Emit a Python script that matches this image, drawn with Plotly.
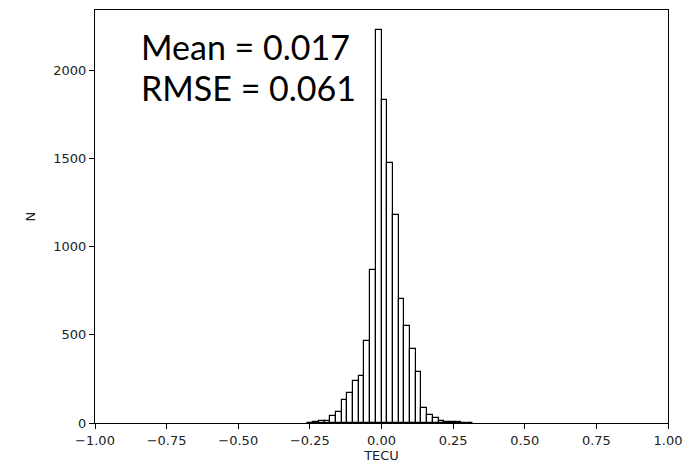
import plotly.graph_objects as go

# Histogram bin centers (TECU) and counts (N)
bin_centers = [-0.2487, -0.2288, -0.2089, -0.1890, -0.1691, -0.1492, -0.1293, -0.1094,
               -0.0895, -0.0696, -0.0497, -0.0298, -0.0099, 0.0100, 0.0299, 0.0498,
               0.0697, 0.0896, 0.1095, 0.1294, 0.1493, 0.1692, 0.1891, 0.2090,
               0.2289, 0.2488, 0.2687, 0.2886, 0.3085]
counts = [2, 5, 10, 12, 41, 62, 128, 173,
          238, 267, 464, 869, 2229, 1831, 1474, 1181,
          704, 550, 420, 290, 85, 48, 28, 14,
          7, 4, 3, 2, 2]
bin_width = 0.0199

x_ticks = [-1.00, -0.75, -0.50, -0.25, 0.00, 0.25, 0.50, 0.75, 1.00]
x_tick_labels = ["\u22121.00", "\u22120.75", "\u22120.50", "\u22120.25", "0.00", "0.25", "0.50", "0.75", "1.00"]
y_ticks = [0, 500, 1000, 1500, 2000]
y_tick_labels = ["0", "500", "1000", "1500", "2000"]

fig = go.Figure()
fig.add_trace(go.Bar(
    x=bin_centers, y=counts, width=[bin_width] * len(counts),
    marker=dict(color="white", line=dict(color="black", width=1.2)),
    showlegend=False,
))

tick_font = dict(family="DejaVu Sans", size=13, color="#222222")
fig.update_layout(
    width=697, height=470,
    margin=dict(l=95, r=29, t=9, b=45),
    paper_bgcolor="white", plot_bgcolor="white",
    bargap=0,
    xaxis=dict(range=[-1, 1], tickvals=x_ticks, ticktext=x_tick_labels,
               showgrid=False, zeroline=False, showline=True, linecolor="black",
               linewidth=1, mirror=True, ticks="outside", ticklen=5, tickcolor="black",
               tickfont=tick_font,
               title=dict(text="TECU", font=dict(family="DejaVu Sans", size=13, color="#222222"), standoff=4)),
    yaxis=dict(range=[0, 2344], tickvals=y_ticks, ticktext=y_tick_labels,
               showgrid=False, zeroline=False, showline=True, linecolor="black",
               linewidth=1, mirror=True, ticks="outside", ticklen=5, tickcolor="black",
               tickfont=tick_font,
               title=dict(text="N", font=dict(family="DejaVu Sans", size=13, color="#222222"), standoff=14)),
    annotations=[
        dict(text="Mean = 0.017", xref="paper", yref="paper", x=0.077, y=0.911,
             xanchor="left", yanchor="middle", showarrow=False,
             font=dict(family="Lato", size=34, color="black")),
        dict(text="RMSE = 0.061", xref="paper", yref="paper", x=0.077, y=0.813,
             xanchor="left", yanchor="middle", showarrow=False,
             font=dict(family="Lato", size=34, color="black")),
    ],
)

fig.write_html("out.html")
